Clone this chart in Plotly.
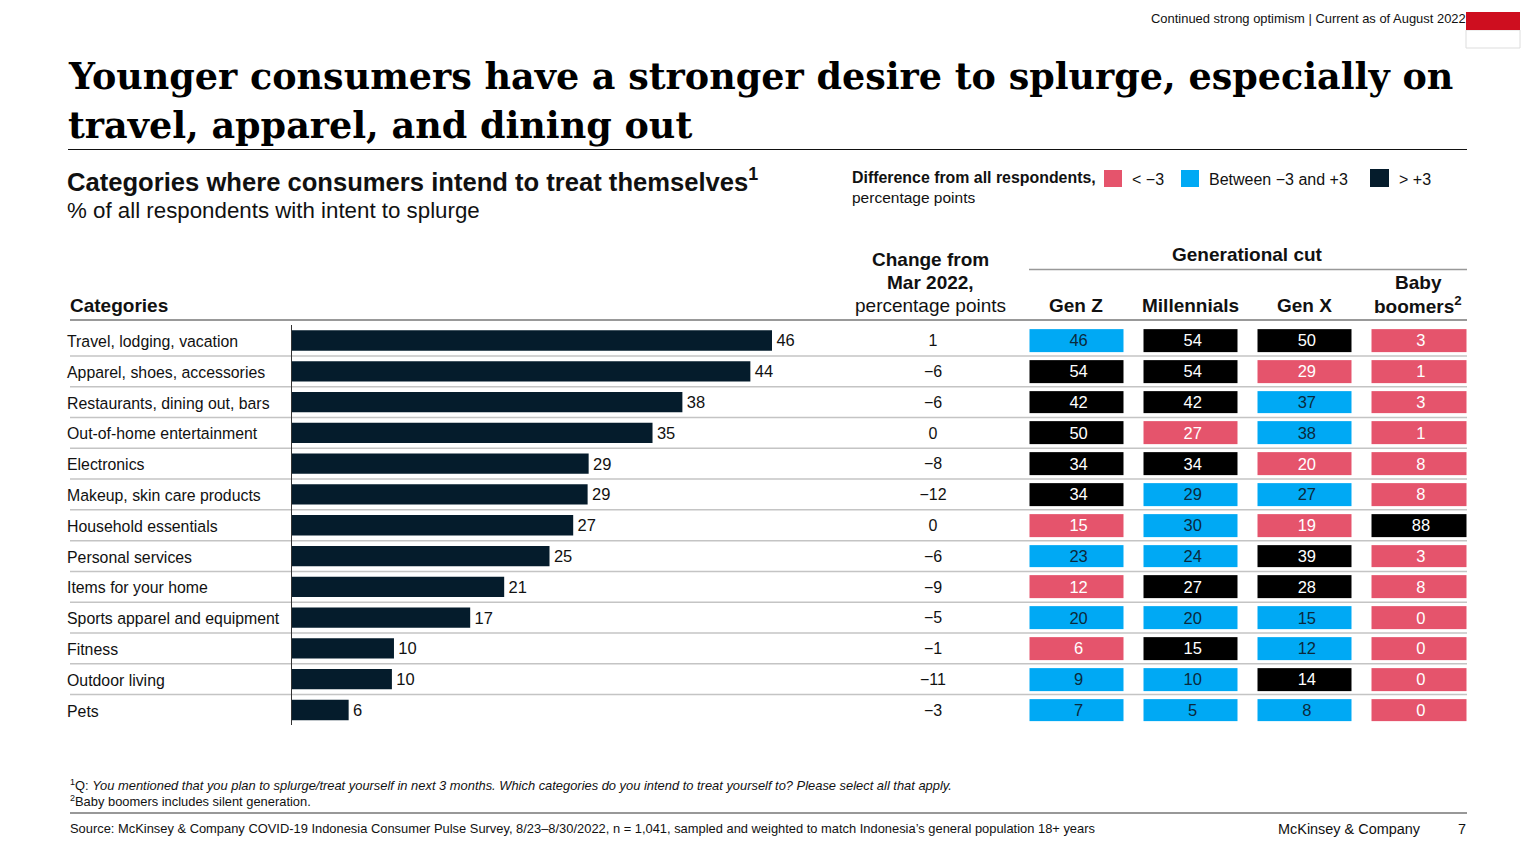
import plotly.graph_objects as go

W, H = 1536, 864
SANS = "Liberation Sans"
SERIF = "DejaVu Serif"
NAVY = "#051C2C"
PINK = "#E5546C"
BLUE = "#00A9F4"
BLACK = "#000000"

categories = ["Travel, lodging, vacation", "Apparel, shoes, accessories", "Restaurants, dining out, bars",
              "Out-of-home entertainment", "Electronics", "Makeup, skin care products", "Household essentials",
              "Personal services", "Items for your home", "Sports apparel and equipment", "Fitness",
              "Outdoor living", "Pets"]
bar_lengths = [46.6, 44.5, 37.9, 35.0, 28.8, 28.7, 27.3, 25.0, 20.6, 17.3, 9.9, 9.7, 5.5]
bar_labels = ["46", "44", "38", "35", "29", "29", "27", "25", "21", "17", "10", "10", "6"]
change = ["1", "−6", "−6", "0", "−8", "−12", "0", "−6", "−9", "−5", "−1", "−11", "−3"]
generations = ["Gen Z", "Millennials", "Gen X", "Baby boomers"]
gen_values = [[46, 54, 50, 3], [54, 54, 29, 1], [42, 42, 37, 3], [50, 27, 38, 1], [34, 34, 20, 8],
              [34, 29, 27, 8], [15, 30, 19, 88], [23, 24, 39, 3], [12, 27, 28, 8], [20, 20, 15, 0],
              [6, 15, 12, 0], [9, 10, 14, 0], [7, 5, 8, 0]]
# 0: < -3, 1: between -3 and +3, 2: > +3
gen_class = [[1, 2, 2, 0], [2, 2, 0, 0], [2, 2, 1, 0], [2, 0, 1, 0], [2, 2, 0, 0],
             [2, 1, 1, 0], [0, 1, 0, 2], [1, 1, 2, 0], [0, 2, 2, 0], [1, 1, 1, 0],
             [0, 2, 1, 0], [1, 1, 2, 0], [1, 1, 1, 0]]

def px(x): return x / W
def py(y): return 1 - y / H

fig = go.Figure()
fig.add_trace(go.Bar(y=categories, x=bar_lengths, orientation="h", marker=dict(color=NAVY, line_width=0),
                     width=0.66, text=bar_labels, texttemplate="\u200a%{text}", textposition="outside", cliponaxis=False,
                     textfont=dict(family=SANS, size=16.5, color="#111"), xaxis="x", yaxis="y", showlegend=False))
fig.add_trace(go.Scatter(x=["Change"] * len(categories), y=categories, mode="text", text=change,
                         textfont=dict(family=SANS, size=16, color="#111"), xaxis="x3", yaxis="y2", showlegend=False))
fig.add_trace(go.Heatmap(z=gen_class, x=generations, y=categories, xaxis="x2", yaxis="y", xgap=20, ygap=8,
                         zmin=0, zmax=2, showscale=False,
                         colorscale=[[0, PINK], [0.33, PINK], [0.33, BLUE], [0.66, BLUE], [0.66, BLACK], [1, BLACK]]))
cell_x, cell_y, cell_t, cell_c = [], [], [], []
for r, cat in enumerate(categories):
    for c, gen in enumerate(generations):
        cell_x.append(gen); cell_y.append(cat); cell_t.append(str(gen_values[r][c]))
        cell_c.append("#0B2A3C" if gen_class[r][c] == 1 else "#FFFFFF")
fig.add_trace(go.Scatter(x=cell_x, y=cell_y, mode="text", text=cell_t, xaxis="x4", yaxis="y2", showlegend=False,
                         textfont=dict(family=SANS, size=16.5, color=cell_c)))

ann = []
def T(x, y, s, size, anchor="left", color="#111", family=SANS):
    ann.append(dict(x=px(x), y=py(y), xref="paper", yref="paper", text=s, showarrow=False, xanchor=anchor,
                    yanchor="middle", font=dict(family=family, size=size, color=color), borderpad=0, borderwidth=0))

T(1466, 18, "Continued strong optimism | Current as of August 2022", 12.95, "right")
T(68, 76, "<b>Younger consumers have a stronger desire to splurge, especially on</b>", 36.5, family=SERIF, color="#000")
T(68, 125, "<b>travel, apparel, and dining out</b>", 36.5, family=SERIF, color="#000")
T(67, 180, "<b>Categories where consumers intend to treat themselves<sup>1</sup></b>", 25.6)
T(67, 210, "% of all respondents with intent to splurge", 22.3)
T(852, 178, "<b>Difference from all respondents,</b>", 15.9)
T(852, 198, "percentage points", 15.5)
T(1132, 179.5, "&lt; −3", 16)
T(1209, 179.5, "Between −3 and +3", 16)
T(1399, 179.5, "&gt; +3", 16)
T(70, 305.5, "<b>Categories</b>", 19)
T(930, 259.5, "<b>Change from</b>", 19, "center")
T(930, 282.5, "<b>Mar 2022,</b>", 19, "center")
T(930, 305.5, "percentage points", 19, "center")
T(1247, 255, "<b>Generational cut</b>", 19, "center")
T(1076, 305.5, "<b>Gen Z</b>", 19, "center")
T(1190, 305.5, "<b>Millennials</b>", 19, "center")
T(1304, 305.5, "<b>Gen X</b>", 19, "center")
T(1418, 282.5, "<b>Baby</b>", 19, "center")
T(1418, 304.5, "<b>boomers<sup>2</sup></b>", 19, "center")
T(70, 784.5, "<sup>1</sup>Q: <i>You mentioned that you plan to splurge/treat yourself in next 3 months. Which categories do you intend to treat yourself to? Please select all that apply.</i>", 12.9)
T(70, 800.5, "<sup>2</sup>Baby boomers includes silent generation.", 12.9)
T(70, 828, "Source: McKinsey &amp; Company COVID-19 Indonesia Consumer Pulse Survey, 8/23–8/30/2022, n = 1,041, sampled and weighted to match Indonesia’s general population 18+ years", 12.9)
T(1278, 829, "McKinsey &amp; Company", 14.45)
T(1466, 829, "7", 14.45, "right")
for cat in categories:
    ann.append(dict(x=px(66), y=cat, xref="paper", yref="y", text=cat, showarrow=False, xanchor="left", borderpad=0,
                    yanchor="middle", yshift=-1, font=dict(family=SANS, size=15.85, color="#111")))

shapes = []
def line(x0, x1, y, color, w):
    shapes.append(dict(type="line", xref="paper", yref="paper", x0=px(x0), x1=px(x1), y0=py(y), y1=py(y),
                       line=dict(color=color, width=w), layer="below"))
def rect(x0, x1, y0, y1, fill, border=None):
    shapes.append(dict(type="rect", xref="paper", yref="paper", x0=px(x0), x1=px(x1), y0=py(y0), y1=py(y1),
                       fillcolor=fill, line=dict(color=border or fill, width=1 if border else 0)))
line(68, 1467, 149.5, "#111", 1)
line(1029, 1467, 269.5, "#999", 1.5)
line(70, 1467, 320, "#999", 2)
line(70, 1467, 813, "#333", 1.2)
for i in range(len(categories) - 1):
    shapes.append(dict(type="line", xref="paper", yref="y", x0=px(70), x1=px(1467), y0=i + 0.5, y1=i + 0.5,
                       line=dict(color="#C4C4C4", width=1.5), layer="below"))
rect(1104, 1122, 170, 187, PINK)
rect(1181, 1199, 170, 187, BLUE)
rect(1370, 1389, 169, 187, NAVY)
rect(1466, 1520, 30, 48, "#FFFFFF", "#DDDDDD")
rect(1466, 1520, 12, 30, "#CE0E1F")

row_range = [len(categories) - 0.5, -0.5]
col_range = [-0.5, len(generations) - 0.5]
fig.update_layout(
    width=W, height=H, autosize=False, margin=dict(l=0, r=0, t=0, b=0), paper_bgcolor="white", plot_bgcolor="rgba(0,0,0,0)",
    showlegend=False, annotations=ann, shapes=shapes,
    yaxis=dict(domain=[py(725.4), py(325.1)], categoryorder="array", categoryarray=categories, range=row_range,
               showticklabels=False, ticks="", showgrid=False, zeroline=False, showline=True, linecolor="#333", linewidth=1, anchor="x"),
    yaxis2=dict(domain=[py(727.2), py(326.9)], categoryorder="array", categoryarray=categories, range=row_range,
                visible=False, anchor="x3"),
    xaxis=dict(domain=[px(292), px(772)], range=[0, 46.6], visible=False, anchor="y"),
    xaxis2=dict(domain=[px(1019.5), px(1476)], range=col_range, visible=False, anchor="y",
                categoryorder="array", categoryarray=generations),
    xaxis3=dict(domain=[px(883), px(983)], visible=False, anchor="y2"),
    xaxis4=dict(domain=[px(1021.5), px(1478)], range=col_range, visible=False, anchor="y2",
                categoryorder="array", categoryarray=generations),
)
fig.write_html("out.html", config={"displayModeBar": False}, post_script="document.body.style.margin='0';")
